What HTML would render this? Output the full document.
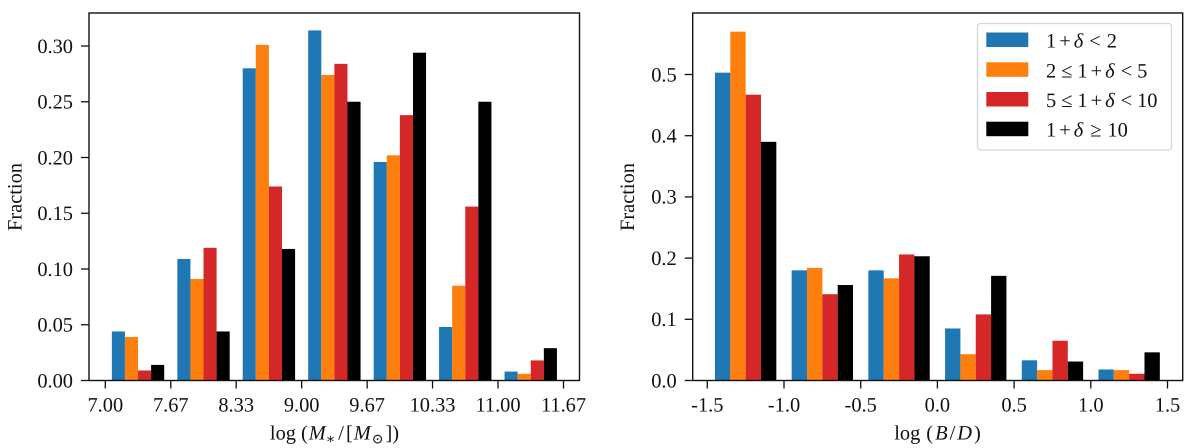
<!DOCTYPE html>
<html lang="en">
<head>
<meta charset="utf-8">
<title>Fraction histograms</title>
<style>
html,body{margin:0;padding:0;background:#fff;}
svg{display:block;font-family:"Liberation Serif","DejaVu Serif",serif;fill:#111;text-rendering:geometricPrecision;}
text{font-size:20.4px;}
.it{font-style:italic;}
</style>
</head>
<body>
<svg id="figure" xmlns="http://www.w3.org/2000/svg" width="1200" height="448" viewBox="0 0 1200 448">
  <g id="panel-left"></g>
  <g id="panel-right"></g>

  <text transform="translate(21.5,197) rotate(-90)" text-anchor="middle">Fraction</text>
  <text x="334.5" y="439.5" text-anchor="middle">log<tspan dx="5">(</tspan><tspan class="it" dx="1">M</tspan><tspan font-size="14" dy="4">∗</tspan><tspan dy="-4" dx="3">/</tspan><tspan dx="2">[</tspan><tspan class="it" dx="1">M</tspan><tspan font-size="14" dy="4" dx="1">⊙</tspan><tspan dy="-4" dx="2">])</tspan></text>

  <text transform="translate(634,197) rotate(-90)" text-anchor="middle">Fraction</text>
  <text x="937.5" y="439.5" text-anchor="middle">log<tspan dx="6">(</tspan><tspan class="it" dx="2">B</tspan><tspan dx="2">/</tspan><tspan class="it" dx="2">D</tspan><tspan dx="2">)</tspan></text>

  <g>
    <rect x="977.5" y="23.5" width="194" height="126.5" rx="3" ry="3" fill="#fff" fill-opacity="0.8" stroke="#d6d6d6" stroke-width="1.3"/>
    <g>
      <rect x="986.3" y="32.5" width="42" height="14.5" fill="#1f77b4"/>
      <text x="1046" y="47.5">1<tspan dx="3">+</tspan><tspan class="it" dx="3">δ</tspan><tspan dx="6">&lt;</tspan><tspan dx="6">2</tspan></text>
    </g>
    <g>
      <rect x="986.3" y="62.3" width="42" height="14.5" fill="#ff7f0e"/>
      <text x="1046" y="77.3">2<tspan dx="5">≤</tspan><tspan dx="5">1</tspan><tspan dx="3">+</tspan><tspan class="it" dx="3">δ</tspan><tspan dx="6">&lt;</tspan><tspan dx="5">5</tspan></text>
    </g>
    <g>
      <rect x="986.3" y="92" width="42" height="14.5" fill="#d62728"/>
      <text x="1046" y="107.2">5<tspan dx="5">≤</tspan><tspan dx="5">1</tspan><tspan dx="3">+</tspan><tspan class="it" dx="3">δ</tspan><tspan dx="6">&lt;</tspan><tspan dx="5">10</tspan></text>
    </g>
    <g>
      <rect x="986.3" y="121.7" width="42" height="14.5" fill="#000"/>
      <text x="1046" y="136.7">1<tspan dx="3">+</tspan><tspan class="it" dx="3">δ</tspan><tspan dx="7">≥</tspan><tspan dx="6">10</tspan></text>
    </g>
  </g>
</svg>
<script>
var massBinEdges = [7.0, 7.667, 8.333, 9.0, 9.667, 10.333, 11.0];
var massTickValues = [7.0, 7.667, 8.333, 9.0, 9.667, 10.333, 11.0, 11.667];
var massTickLabels = ["7.00", "7.67", "8.33", "9.00", "9.67", "10.33", "11.00", "11.67"];
var massYTicks = [0, 0.05, 0.10, 0.15, 0.20, 0.25, 0.30];
var massYLabels = ["0.00", "0.05", "0.10", "0.15", "0.20", "0.25", "0.30"];
var massLow = [0.044, 0.109, 0.280, 0.314, 0.196, 0.048, 0.008];
var massMid = [0.039, 0.091, 0.301, 0.274, 0.202, 0.085, 0.006];
var massHigh = [0.009, 0.119, 0.174, 0.284, 0.238, 0.156, 0.018];
var massCluster = [0.014, 0.044, 0.118, 0.250, 0.294, 0.250, 0.029];

var bdBinEdges = [-1.5, -1.0, -0.5, 0.0, 0.5, 1.0];
var bdTickValues = [-1.5, -1.0, -0.5, 0.0, 0.5, 1.0, 1.5];
var bdTickLabels = ["-1.5", "-1.0", "-0.5", "0.0", "0.5", "1.0", "1.5"];
var bdYTicks = [0, 0.1, 0.2, 0.3, 0.4, 0.5];
var bdYLabels = ["0.0", "0.1", "0.2", "0.3", "0.4", "0.5"];
var bdLow = [0.503, 0.180, 0.180, 0.085, 0.033, 0.018];
var bdMid = [0.570, 0.184, 0.167, 0.043, 0.017, 0.017];
var bdHigh = [0.467, 0.141, 0.206, 0.108, 0.065, 0.011];
var bdCluster = [0.390, 0.156, 0.203, 0.171, 0.031, 0.046];

var seriesNames = ["low-density", "mid-density", "high-density", "cluster-density"];
var seriesColors = ["#1f77b4", "#ff7f0e", "#d62728", "#000000"];

var SVG_NS = "http://www.w3.org/2000/svg";

function drawPanel(opts) {
  var g = document.getElementById(opts.id);
  var box = opts.box;
  function xScale(v) { return opts.x0 + (v - opts.xRef) * opts.xK; }
  function yScale(v) { return box.bottom - v * opts.yK; }

  opts.series.forEach(function (values, s) {
    values.forEach(function (v, i) {
      var bar = document.createElementNS(SVG_NS, "rect");
      
      
      var left = opts.edges[i] + opts.binWidth * 0.1 + s * opts.binWidth * 0.2;
      bar.setAttribute("x", xScale(left));
      bar.setAttribute("y", yScale(v));
      bar.setAttribute("width", opts.binWidth * 0.2 * opts.xK);
      bar.setAttribute("height", box.bottom - yScale(v));
      bar.setAttribute("fill", seriesColors[s]);
      g.appendChild(bar);
    });
  });

  var frame = document.createElementNS(SVG_NS, "rect");
  
  
  frame.setAttribute("x", box.left);
  frame.setAttribute("y", box.top);
  frame.setAttribute("width", box.right - box.left);
  frame.setAttribute("height", box.bottom - box.top);
  frame.setAttribute("fill", "none");
  frame.setAttribute("stroke", "#111");
  frame.setAttribute("stroke-width", "1.4");
  g.appendChild(frame);

  opts.xTicks.forEach(function (v, i) {
    var tick = document.createElementNS(SVG_NS, "line");
    
    
    tick.setAttribute("x1", xScale(v));
    tick.setAttribute("x2", xScale(v));
    tick.setAttribute("y1", box.bottom);
    tick.setAttribute("y2", box.bottom + 8);
    tick.setAttribute("stroke", "#111");
    tick.setAttribute("stroke-width", "1.3");
    g.appendChild(tick);
    var label = document.createElementNS(SVG_NS, "text");
    
    
    label.setAttribute("x", xScale(v));
    label.setAttribute("y", box.bottom + 31);
    label.setAttribute("text-anchor", "middle");
    label.textContent = opts.xLabels[i];
    g.appendChild(label);
  });

  opts.yTicks.forEach(function (v, i) {
    var tick = document.createElementNS(SVG_NS, "line");
    
    
    tick.setAttribute("x1", box.left - 8);
    tick.setAttribute("x2", box.left);
    tick.setAttribute("y1", yScale(v));
    tick.setAttribute("y2", yScale(v));
    tick.setAttribute("stroke", "#111");
    tick.setAttribute("stroke-width", "1.3");
    g.appendChild(tick);
    var label = document.createElementNS(SVG_NS, "text");
    
    
    label.setAttribute("x", box.left - 16);
    label.setAttribute("y", yScale(v) + 6.8);
    label.setAttribute("text-anchor", "end");
    label.textContent = opts.yLabels[i];
    g.appendChild(label);
  });
}

drawPanel({
  id: "panel-left",
  box: { left: 89, right: 579.5, top: 13, bottom: 380.5 },
  x0: 105.3, xRef: 7.0, xK: 98.18, yK: 1115,
  binWidth: 2 / 3,
  edges: massBinEdges,
  series: [massLow, massMid, massHigh, massCluster],
  xTicks: massTickValues, xLabels: massTickLabels,
  yTicks: massYTicks, yLabels: massYLabels
});

drawPanel({
  id: "panel-right",
  box: { left: 692.7, right: 1182.7, top: 13, bottom: 380.5 },
  x0: 707.3, xRef: -1.5, xK: 153.4, yK: 612,
  binWidth: 0.5,
  edges: bdBinEdges,
  series: [bdLow, bdMid, bdHigh, bdCluster],
  xTicks: bdTickValues, xLabels: bdTickLabels,
  yTicks: bdYTicks, yLabels: bdYLabels
});
</script>
</body>
</html>
